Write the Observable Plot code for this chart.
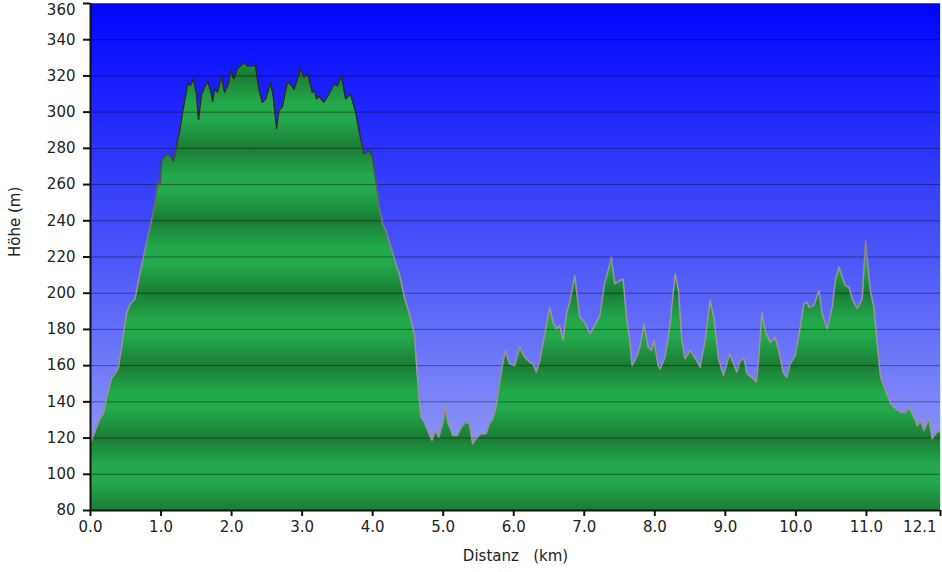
<!DOCTYPE html>
<html><head><meta charset="utf-8">
<script src="https://cdn.jsdelivr.net/npm/d3@7"></script>
<script src="https://cdn.jsdelivr.net/npm/@observablehq/plot@0.6"></script>
<style>body{margin:0;background:#fff;}</style>
</head><body><div id="chart"></div>
<script>
const distanceKm = [0,0.067,0.138,0.184,0.227,0.298,0.350,0.397,0.440,0.511,0.563,0.634,0.681,0.752,0.823,0.865,0.918,0.955,0.989,1.007,1.060,1.106,1.145,1.177,1.220,1.272,1.305,1.343,1.376,1.414,1.461,1.504,1.532,1.574,1.627,1.660,1.712,1.730,1.759,1.801,1.854,1.901,1.957,1.986,2.033,2.081,2.174,2.223,2.340,2.387,2.435,2.482,2.553,2.591,2.638,2.671,2.719,2.790,2.837,2.884,2.979,3.026,3.082,3.145,3.177,3.206,3.238,3.309,3.380,3.451,3.499,3.560,3.617,3.688,3.759,3.830,3.877,3.947,3.996,4.047,4.095,4.142,4.189,4.260,4.330,4.379,4.450,4.521,4.591,4.638,4.685,4.733,4.780,4.841,4.889,4.936,4.993,5.031,5.064,5.111,5.135,5.206,5.252,5.323,5.372,5.418,5.465,5.536,5.607,5.655,5.702,5.749,5.797,5.844,5.882,5.939,6.014,6.085,6.156,6.227,6.274,6.322,6.369,6.440,6.511,6.557,6.606,6.652,6.699,6.748,6.794,6.865,6.936,7.007,7.078,7.149,7.220,7.291,7.338,7.386,7.433,7.504,7.550,7.599,7.645,7.678,7.740,7.787,7.848,7.905,7.953,7.990,8.047,8.075,8.146,8.217,8.288,8.336,8.383,8.430,8.501,8.549,8.620,8.643,8.713,8.784,8.841,8.903,8.974,9.060,9.116,9.163,9.210,9.267,9.305,9.376,9.437,9.471,9.518,9.565,9.635,9.706,9.755,9.826,9.872,9.919,9.990,10.061,10.113,10.160,10.184,10.255,10.326,10.373,10.444,10.515,10.563,10.610,10.657,10.705,10.752,10.799,10.870,10.940,10.989,11.026,11.060,11.106,11.153,11.201,11.272,11.343,11.414,11.485,11.556,11.603,11.674,11.721,11.769,11.816,11.887,11.933,11.981,12.028,12.050];
const elevationM = [117,124,131,133.6,142,153,155.6,159,170,189,194,197,207,220,233,240,251,262,259.5,273,276,277,275,273,281.5,291.5,300,308,316,314.7,318.5,310,296,310,314.7,317,311,306,313,311,320,311,316,323,318.4,324,327.3,325.5,325.8,313,305.5,307.3,316.5,309,291,301,303,316.5,315.6,312.8,324,319.4,321.3,311,312,307.4,309,305.5,310,315.6,314.7,320,307.4,310,300,285.3,277,278.8,276,262,247.5,238.3,234.6,225.4,216.2,210.7,197.8,188.6,177.6,151.8,131.5,128.8,124.2,118.7,124.2,120.5,127.9,138,128.8,124.2,121.4,121.4,126,128.8,127.9,116.8,119.6,122.4,122.4,127.9,130.6,137,150,161,168.4,161,160,170.2,164.7,161.9,161,156.4,162.8,177.6,192.3,184,180.3,182.2,173.9,188.6,195,209.8,186.8,184,177.6,182.2,187.7,206,212.5,219.9,205.1,207,207.9,186.8,173.9,160,164.7,170.2,183.1,170.2,168.4,173.9,160,158.2,164.7,183.1,210.7,201.5,173.9,163.8,168.4,165.6,161,159.1,173.9,196,185.9,163.8,154.6,166.5,161,156.4,162.8,163.8,155.5,153.6,150.9,162.8,189.5,179.4,173,175.7,168.4,155.5,153.6,161,165.6,181.2,194.1,195,192.3,193.2,201.5,188.6,180.3,192.3,208,214.4,208.8,204.2,203.3,196.9,191.4,196.9,229.1,212.5,200.6,192.3,172.1,153.6,146.3,138.9,136.2,134.3,134.3,137.1,131.5,126.9,129.7,124.2,130.6,119.6,122.4,124.2,123];

const xTickValues = [0,1,2,3,4,5,6,7,8,9,10,11,12.05];
const xTickLabels = ["0.0","1.0","2.0","3.0","4.0","5.0","6.0","7.0","8.0","9.0","10.0","11.0","12.1"];
const yTickValues = [80,100,120,140,160,180,200,220,240,260,280,300,320,340,360];
const yTickLabels = ["80","100","120","140","160","180","200","220","240","260","280","300","320","340","360"];
const xLabel = "Distanz\u00a0\u00a0\u00a0(km)";
const yLabel = "Höhe (m)";

const data = distanceKm.map((d, i) => ({d, e: elevationM[i]}));
const xMax = xTickValues[xTickValues.length - 1];
const yMin = yTickValues[0], yMax = yTickValues[yTickValues.length - 1];
const xLast = [{v: xMax, t: xTickLabels[xTickLabels.length - 1]}];
const yLast = [{v: yMax, t: yTickLabels[yTickLabels.length - 1]}];

const plot = Plot.plot({
  width: 942, height: 572,
  marginLeft: 90, marginRight: 2, marginTop: 3, marginBottom: 62,
  style: {fontFamily: "'DejaVu Sans', Verdana, sans-serif", fontSize: "15px", color: "#222", background: "transparent"},
  x: {domain: [0, xMax], label: null},
  y: {domain: [yMin, yMax], label: null},
  marks: [
    Plot.frame({fill: "url(#bgGrad)", stroke: "none"}),
    Plot.areaY(data, {x: "d", y1: yMin, y2: "e", fill: "url(#greenGrad)", curve: "linear"}),
    Plot.gridY(yTickValues, {stroke: "#000", strokeOpacity: 0.4, strokeWidth: 1}),
    Plot.lineY(data, {x: "d", y: "e", stroke: "url(#edgeGrad)", strokeWidth: 1.5}),
    Plot.ruleX([xMax], {stroke: "#cfe9d6", strokeWidth: 1}),
    Plot.ruleX([0], {stroke: "#111", strokeWidth: 2}),
    Plot.ruleY([yMin], {stroke: "#111", strokeWidth: 2}),
    Plot.axisX({ticks: xTickValues, tickFormat: d => d === xMax ? "" : xTickLabels[xTickValues.indexOf(d)], tickSize: 6, tickPadding: 5, stroke: "#111", strokeWidth: 2, fill: "#222"}),
    Plot.text(xLast, {x: "v", text: "t", frameAnchor: "bottom", dy: 11, lineAnchor: "top", textAnchor: "end", dx: -4, fill: "#222"}),
    Plot.axisY({ticks: yTickValues, tickFormat: d => d === yMax ? "" : yTickLabels[yTickValues.indexOf(d)], tickSize: 7, tickPadding: 8, stroke: "#111", strokeWidth: 2, fill: "#222"}),
    Plot.text(yLast, {y: "v", text: "t", frameAnchor: "left", dx: -15, dy: 7, textAnchor: "end", fill: "#222"}),
    Plot.text([yLabel], {text: d => d, frameAnchor: "left", dx: -75, rotate: -90, fill: "#222"}),
    Plot.text([xLabel], {text: d => d, frameAnchor: "bottom", dy: 50, fill: "#222"})
  ]
});

document.getElementById("chart").appendChild(plot);

const svg = d3.select(plot.tagName.toLowerCase() === "svg" ? plot : plot.querySelector("svg"));
const ys = plot.scale("y");
const yTop = ys.apply(yMax), yBot = ys.apply(yMin);
const defs = svg.insert("defs", ":first-child");

const bg = defs.append("linearGradient").attr("id", "bgGrad").attr("x1", 0).attr("y1", 0).attr("x2", 0).attr("y2", 1);
bg.append("stop").attr("offset", 0).attr("stop-color", "#0004ff");
bg.append("stop").attr("offset", 0.5).attr("stop-color", "#4b56f8");
bg.append("stop").attr("offset", 1).attr("stop-color", "#a2aaf6");

const dark = "#1b7c35", light = "#23a84b";
const gg = defs.append("linearGradient").attr("id", "greenGrad").attr("gradientUnits", "userSpaceOnUse")
  .attr("x1", 0).attr("x2", 0).attr("y1", yTop).attr("y2", yBot);
const off = v => (yMax - v) / (yMax - yMin);
const stops = [];
for (let v = yMax; v >= yMin; v -= 20) {
  const isDark = (v - yMin) % 40 === 0;
  if (isDark) stops.push([v, dark]);
  else { stops.push([v + 5, light]); stops.push([v, light]); stops.push([v - 5, light]); }
}
stops.filter(s => s[0] <= yMax && s[0] >= yMin).forEach(([v, c]) => gg.append("stop").attr("offset", off(v)).attr("stop-color", c));

const eg = defs.append("linearGradient").attr("id", "edgeGrad").attr("gradientUnits", "userSpaceOnUse")
  .attr("x1", 0).attr("x2", 0).attr("y1", yTop).attr("y2", yBot);
[[360, "#222"], [290, "#2b2b33"], [240, "#777"], [210, "#9a9498"], [80, "#9a9498"]]
  .forEach(([v, c]) => eg.append("stop").attr("offset", off(v)).attr("stop-color", c));
</script>
</body></html>
